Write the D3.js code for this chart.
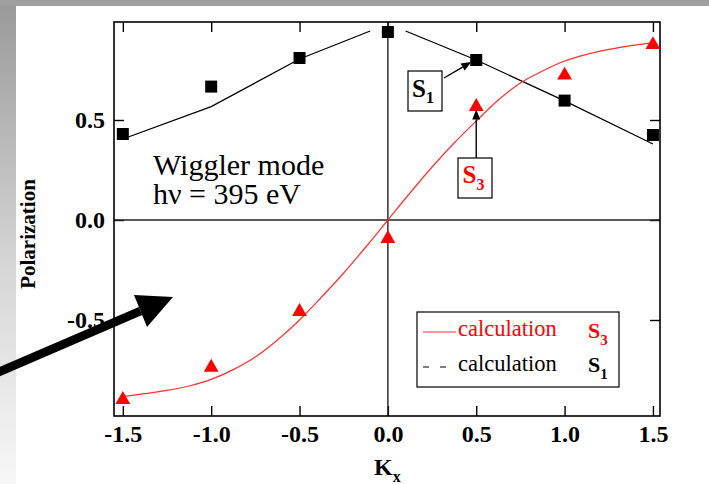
<!DOCTYPE html>
<html>
<head>
<meta charset="utf-8">
<script src="https://cdn.jsdelivr.net/npm/d3@7"></script>
<style>
  body { margin: 0; background: #fff; }
  svg { display: block; }
  text { font-family: "Liberation Serif", "Times New Roman", Times, serif; }
</style>
</head>
<body>
<script>
// Measured polarization at each K_x
const kValues = [-1.5, -1.0, -0.5, 0.0, 0.5, 1.0, 1.5];
const s1Measured = [0.43, 0.667, 0.81, 0.94, 0.80, 0.597, 0.425];
const s3Measured = [-0.898, -0.737, -0.458, -0.093, 0.567, 0.724, 0.876];

// Calculated S1 (no value at K_x = 0)
const s1CalcK = [-1.5, -1.0, -0.5, -0.1, 0.0, 0.1, 0.5, 1.0, 1.5];
const s1CalcV = [0.405, 0.567, 0.805, 0.945, null, 0.945, 0.80, 0.596, 0.38];

// Calculated S3
const s3CalcK = [-1.5, -1.375, -1.25, -1.125, -1.0, -0.875, -0.75, -0.625, -0.5, -0.375, -0.25, -0.125,
                 0, 0.125, 0.25, 0.375, 0.5, 0.625, 0.75, 0.875, 1.0, 1.125, 1.25, 1.375, 1.5];
const s3CalcV = [-0.883, -0.868, -0.852, -0.83, -0.797, -0.748, -0.685, -0.600, -0.5, -0.385, -0.265, -0.135,
                 0, 0.135, 0.265, 0.385, 0.495, 0.600, 0.685, 0.745, 0.795, 0.828, 0.853, 0.872, 0.887];

// Axis ticks
const xTicks = [-1.5, -1.0, -0.5, 0.0, 0.5, 1.0, 1.5];
const xTickLabels = ["-1.5", "-1.0", "-0.5", "0.0", "0.5", "1.0", "1.5"];
const yTicks = [-0.5, 0.0, 0.5];
const yTickLabels = ["-0.5", "0.0", "0.5"];

const W = 709, H = 484;
const box = { left: 114, top: 22, right: 660, bottom: 416 };

const svg = d3.select("body").append("svg").attr("width", W).attr("height", H);

// Slide-style background: grey bar on top, grey fade down the left edge
const defs = svg.append("defs");
const grad = defs.append("linearGradient").attr("id", "edgeFade")
  .attr("x1", 0).attr("y1", 0).attr("x2", 0).attr("y2", 1);
grad.append("stop").attr("offset", "0%").attr("stop-color", "#999999");
grad.append("stop").attr("offset", "55%").attr("stop-color", "#d6d6d6");
grad.append("stop").attr("offset", "100%").attr("stop-color", "#f7f7f7");
svg.append("rect").attr("width", W).attr("height", H).attr("fill", "#fff");
svg.append("rect").attr("x", 0).attr("y", 0).attr("width", 16).attr("height", H).attr("fill", "url(#edgeFade)");
svg.append("rect").attr("x", 0).attr("y", 0).attr("width", W).attr("height", 6).attr("fill", "#a0a0a0");

defs.append("clipPath").attr("id", "plotClip").append("rect")
  .attr("x", box.left).attr("y", box.top)
  .attr("width", box.right - box.left).attr("height", box.bottom - box.top);

const x = d3.scaleLinear().domain([-1.55, 1.54]).range([box.left, box.right]);
const y = d3.scaleLinear().domain([-0.98, 0.99]).range([box.bottom, box.top]);

// Axes with inward ticks on all four sides
const tickFont = g => g.selectAll("text")
  .attr("font-size", 24).attr("font-weight", "bold").attr("fill", "#000");

const gx = svg.append("g").attr("transform", `translate(0,${box.bottom})`)
  .call(d3.axisBottom(x).tickValues(xTicks).tickFormat((d, i) => xTickLabels[i])
    .tickSizeInner(-10).tickSizeOuter(0).tickPadding(9));
gx.call(tickFont);
svg.append("g").attr("transform", `translate(0,${box.top})`)
  .call(d3.axisTop(x).tickValues(xTicks).tickFormat("").tickSizeInner(-10).tickSizeOuter(0));

const gy = svg.append("g").attr("transform", `translate(${box.left},0)`)
  .call(d3.axisLeft(y).tickValues(yTicks).tickFormat((d, i) => yTickLabels[i])
    .tickSizeInner(-10).tickSizeOuter(0).tickPadding(9));
gy.call(tickFont);
svg.append("g").attr("transform", `translate(${box.right},0)`)
  .call(d3.axisRight(y).tickValues(yTicks).tickFormat("").tickSizeInner(-10).tickSizeOuter(0));

svg.selectAll(".domain").remove();
svg.selectAll(".tick line").attr("stroke", "#000").attr("stroke-width", 1.4);

// Zero lines
svg.append("line").attr("x1", box.left).attr("x2", box.right).attr("y1", y(0)).attr("y2", y(0))
  .attr("stroke", "#222").attr("stroke-width", 1.4);
svg.append("line").attr("x1", x(0)).attr("x2", x(0)).attr("y1", box.top).attr("y2", box.bottom)
  .attr("stroke", "#222").attr("stroke-width", 1.4);

// Frame
svg.append("rect").attr("x", box.left).attr("y", box.top)
  .attr("width", box.right - box.left).attr("height", box.bottom - box.top)
  .attr("fill", "none").attr("stroke", "#000").attr("stroke-width", 1.6);

// Axis titles
svg.append("text").attr("transform", `translate(35,234) rotate(-90)`)
  .attr("text-anchor", "middle").attr("font-size", 21).attr("font-weight", "bold")
  .text("Polarization");
const kt = svg.append("text").attr("x", 374).attr("y", 475)
  .attr("font-size", 24).attr("font-weight", "bold");
kt.append("tspan").text("K");
kt.append("tspan").attr("font-size", 16).attr("dy", 7).text("x");

// Calculation curves
const plot = svg.append("g").attr("clip-path", "url(#plotClip)");
const s1Calc = s1CalcK.map((k, i) => ({ k, v: s1CalcV[i] }));
const s3Calc = s3CalcK.map((k, i) => ({ k, v: s3CalcV[i] }));

plot.append("path").datum(s1Calc)
  .attr("d", d3.line().defined(d => d.v !== null).x(d => x(d.k)).y(d => y(d.v)))
  .attr("fill", "none").attr("stroke", "#000").attr("stroke-width", 1.3);
plot.append("path").datum(s3Calc)
  .attr("d", d3.line().curve(d3.curveMonotoneX).x(d => x(d.k)).y(d => y(d.v)))
  .attr("fill", "none").attr("stroke", "#ff3030").attr("stroke-width", 1.2);

// Measured points
const sq = 12;
svg.append("g").selectAll("rect").data(kValues).join("rect")
  .attr("x", (d, i) => x(d) - sq / 2).attr("y", (d, i) => y(s1Measured[i]) - sq / 2)
  .attr("width", sq).attr("height", sq).attr("fill", "#000");
svg.append("g").selectAll("path").data(kValues).join("path")
  .attr("transform", (d, i) => `translate(${x(d)},${y(s3Measured[i])})`)
  .attr("d", d3.symbol().type(d3.symbolTriangle).size(95)())
  .attr("fill", "#ff0000");

// Small arrow helper
function arrow(g, x1, y1, x2, y2, len, half, color) {
  const dx = x2 - x1, dy = y2 - y1, L = Math.hypot(dx, dy);
  const ux = dx / L, uy = dy / L, nx = -uy, ny = ux;
  const bx = x2 - ux * len, by = y2 - uy * len;
  g.append("line").attr("x1", x1).attr("y1", y1).attr("x2", bx).attr("y2", by)
    .attr("stroke", color).attr("stroke-width", 1.4);
  g.append("path")
    .attr("d", `M${x2},${y2}L${bx + nx * half},${by + ny * half}L${bx - nx * half},${by - ny * half}Z`)
    .attr("fill", color);
}

// Annotation labels
const ann = svg.append("g");
ann.append("rect").attr("x", 408).attr("y", 71).attr("width", 34).attr("height", 40)
  .attr("fill", "#fff").attr("stroke", "#000").attr("stroke-width", 1.2);
const s1t = ann.append("text").attr("x", 412).attr("y", 96.5).attr("font-weight", "bold").attr("font-size", 25);
s1t.append("tspan").text("S");
s1t.append("tspan").attr("font-size", 16).attr("dy", 6.5).text("1");
arrow(ann, 444, 78, x(0.5) - 5, y(s1Measured[4]) + 2, 10, 4, "#000");

ann.append("rect").attr("x", 458).attr("y", 158).attr("width", 34).attr("height", 40)
  .attr("fill", "#fff").attr("stroke", "#000").attr("stroke-width", 1.2);
const s3t = ann.append("text").attr("x", 462.5).attr("y", 183).attr("font-weight", "bold")
  .attr("font-size", 25).attr("fill", "#ff0000");
s3t.append("tspan").text("S");
s3t.append("tspan").attr("font-size", 16).attr("dy", 7).text("3");
arrow(ann, x(0.5), 158, x(0.5), y(s3Measured[4]) + 3, 10, 4, "#000");

// Plot description
const note = svg.append("text").attr("x", 153).attr("y", 175).attr("font-size", 30);
note.append("tspan").text("Wiggler mode");
note.append("tspan").attr("x", 153).attr("y", 204).text("hν = 395 eV");

// Legend
const lg = svg.append("g");
lg.append("rect").attr("x", 417).attr("y", 312).attr("width", 202).attr("height", 75)
  .attr("fill", "#fff").attr("stroke", "#000").attr("stroke-width", 1.2);
lg.append("line").attr("x1", 423).attr("x2", 456).attr("y1", 332).attr("y2", 332)
  .attr("stroke", "#ff3030").attr("stroke-width", 1.2);
lg.append("text").attr("x", 458).attr("y", 336).attr("font-size", 22.5).attr("fill", "#ff0000").text("calculation");
const l3 = lg.append("text").attr("x", 588).attr("y", 338).attr("font-size", 22)
  .attr("font-weight", "bold").attr("fill", "#ff0000");
l3.append("tspan").text("S");
l3.append("tspan").attr("font-size", 15).attr("dy", 7).text("3");
lg.append("line").attr("x1", 423).attr("x2", 447).attr("y1", 367).attr("y2", 367)
  .attr("stroke", "#000").attr("stroke-width", 1.2).attr("stroke-dasharray", "6,11");
lg.append("text").attr("x", 458).attr("y", 371).attr("font-size", 22.5).attr("fill", "#000").text("calculation");
const l1 = lg.append("text").attr("x", 588).attr("y", 372).attr("font-size", 22)
  .attr("font-weight", "bold").attr("fill", "#000");
l1.append("tspan").text("S");
l1.append("tspan").attr("font-size", 15).attr("dy", 7).text("1");

// Big pointer arrow coming in from the left edge
(function () {
  const tip = [173, 297], c1 = [134, 295], c2 = [147, 327];
  const bm = [(c1[0] + c2[0]) / 2, (c1[1] + c2[1]) / 2];
  const ux = bm[0] - tip[0], uy = bm[1] - tip[1], L = Math.hypot(ux, uy);
  const dx = ux / L, dy = uy / L, nx = -dy, ny = dx, hw = 4.3;
  const t = 200, end = [bm[0] + dx * t, bm[1] + dy * t];
  svg.append("path")
    .attr("d", `M${bm[0] + nx * hw},${bm[1] + ny * hw}L${end[0] + nx * hw},${end[1] + ny * hw}` +
               `L${end[0] - nx * hw},${end[1] - ny * hw}L${bm[0] - nx * hw},${bm[1] - ny * hw}Z`)
    .attr("fill", "#000");
  svg.append("path").attr("d", `M${tip[0]},${tip[1]}L${c1[0]},${c1[1]}L${c2[0]},${c2[1]}Z`).attr("fill", "#000");
})();
</script>
</body>
</html>
